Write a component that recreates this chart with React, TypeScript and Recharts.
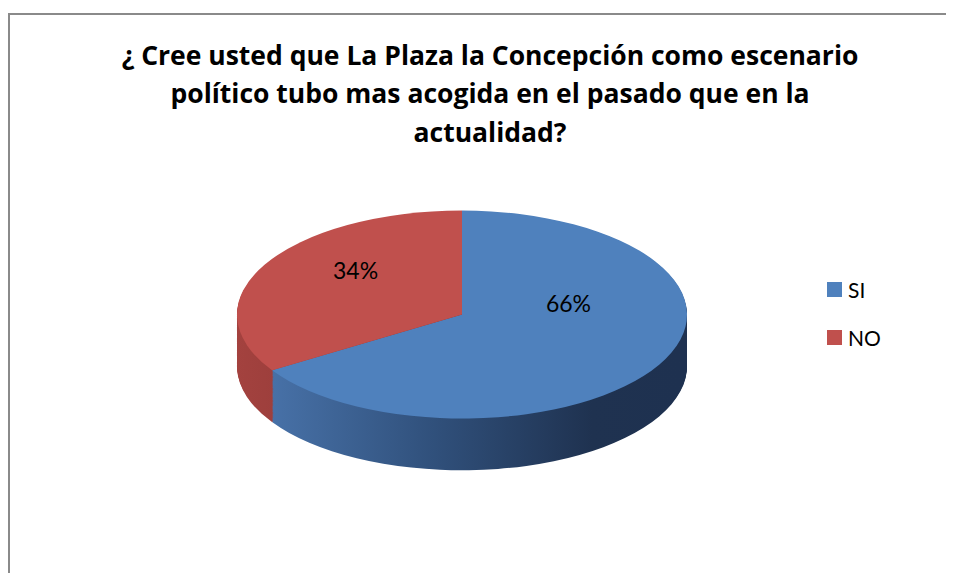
import React from 'react';
import { PieChart, Pie, Cell } from 'recharts';

const categories = ['SI', 'NO'];
const values = [66, 34];
const labelTexts = ['66%', '34%'];

const titleLines = [
  '¿ Cree usted que La Plaza la Concepción como escenario',
  'político tubo mas acogida en el pasado que en la',
  'actualidad?',
];

const topColors = ['#4f81bd', '#c0504d'];
const sideFills = ['url(#sideBlue)', 'url(#sideRed)'];

// tilted pie: drawn as a circle, then squashed vertically
const K = 0.462;
const R = 225;
const CX = 457;
const CY = 230;
const DEPTH = 112;
const PIE_TOP = 205.7;
const RADIAN = Math.PI / 180;

const data = categories.map((name, i) => ({ name, value: values[i], label: labelTexts[i] }));

const depthSteps: number[] = [];
for (let d = DEPTH; d > 0; d -= 2) depthSteps.push(d);

function renderLabel(props: any) {
  const { cx, cy, midAngle, outerRadius, index } = props;
  const x = cx + outerRadius * 0.54 * Math.cos(midAngle * RADIAN);
  const y = cy - outerRadius * 0.27 - outerRadius * 0.33 * Math.sin(midAngle * RADIAN);
  return (
    <text
      transform={`translate(${x}, ${y}) scale(1, ${1 / K})`}
      textAnchor="middle"
      dominantBaseline="central"
      fontFamily="Lato, sans-serif"
      fontSize={23}
      fill="#000"
    >
      {data[index].label}
    </text>
  );
}

export default function App() {
  return (
    <div
      style={{
        position: 'relative',
        width: 954,
        height: 581,
        margin: -8,
        overflow: 'hidden',
        background: '#fff',
        fontFamily: 'Lato, sans-serif',
      }}
    >
      {/* chart area border (right and bottom edges fall outside the picture) */}
      <div
        style={{
          position: 'absolute',
          left: 8,
          top: 13,
          width: 946,
          height: 568,
          borderTop: '2px solid #8a8a8a',
          borderLeft: '2px solid #8a8a8a',
        }}
      />

      {/* Title */}
      <div
        style={{
          position: 'absolute',
          left: 0,
          top: 35.5,
          width: 980,
          textAlign: 'center',
          fontFamily: '"Open Sans", sans-serif',
          fontWeight: 700,
          fontSize: 26.5,
          lineHeight: '38.5px',
          color: '#000',
          whiteSpace: 'nowrap',
        }}
      >
        {titleLines.map((t) => (
          <div key={t}>{t}</div>
        ))}
      </div>

      {/* 3D-ish pie */}
      <div
        style={{
          position: 'absolute',
          left: 0,
          top: PIE_TOP,
          width: 954,
          height: CY + R + DEPTH + 10,
          transform: `scaleY(${K})`,
          transformOrigin: 'top left',
        }}
      >
        <PieChart width={954} height={CY + R + DEPTH + 10}>
          <defs>
            <linearGradient id="sideBlue" gradientUnits="userSpaceOnUse" x1={CX - R} y1={0} x2={CX + R} y2={0}>
              <stop offset="0%" stopColor="#4d79b2" />
              <stop offset="45%" stopColor="#30507b" />
              <stop offset="80%" stopColor="#1f3250" />
              <stop offset="100%" stopColor="#1e3150" />
            </linearGradient>
            <linearGradient id="sideRed" gradientUnits="userSpaceOnUse" x1={CX - R} y1={0} x2={CX + R} y2={0}>
              <stop offset="0%" stopColor="#a4423f" />
              <stop offset="100%" stopColor="#5e2423" />
            </linearGradient>
          </defs>
          {depthSteps.map((d) => (
            <Pie
              key={d}
              data={data}
              dataKey="value"
              cx={CX}
              cy={CY + d}
              outerRadius={R}
              startAngle={90}
              endAngle={-270}
              stroke="none"
              label={false}
              labelLine={false}
              isAnimationActive={false}
            >
              {data.map((entry, i) => (
                <Cell key={entry.name} fill={sideFills[i]} />
              ))}
            </Pie>
          ))}
          <Pie
            data={data}
            dataKey="value"
            cx={CX}
            cy={CY}
            outerRadius={R}
            startAngle={90}
            endAngle={-270}
            stroke="none"
            label={renderLabel}
            labelLine={false}
            isAnimationActive={false}
          >
            {data.map((entry, i) => (
              <Cell key={entry.name} fill={topColors[i]} />
            ))}
          </Pie>
        </PieChart>
      </div>

      {/* Legend */}
      <div style={{ position: 'absolute', left: 827, top: 265.5 }}>
        {data.map((entry, i) => (
          <div key={entry.name} style={{ display: 'flex', alignItems: 'center', height: 48 }}>
            <div style={{ width: 15, height: 15, background: topColors[i], marginRight: 6 }} />
            <span style={{ fontSize: 21, color: '#000' }}>{entry.name}</span>
          </div>
        ))}
      </div>
    </div>
  );
}
